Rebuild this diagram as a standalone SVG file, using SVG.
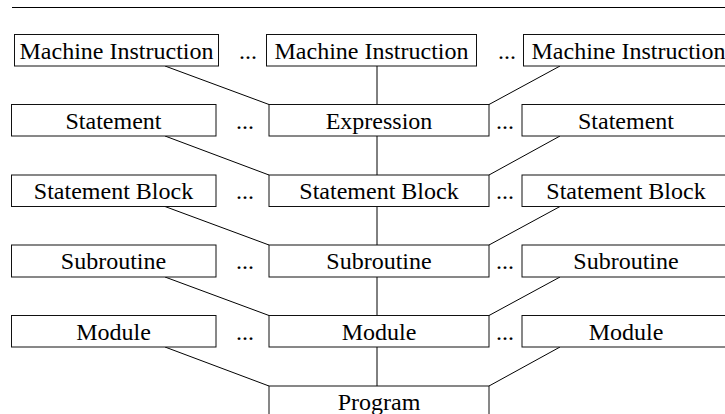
<svg xmlns="http://www.w3.org/2000/svg" width="725" height="414" viewBox="0 0 725 414">
<style>
  .box { fill: #fff; stroke: #111; stroke-width: 1; }
  .conn { stroke: #000; stroke-width: 1; fill: none; }
  text { font-family: 'Liberation Serif', 'Times New Roman', Times, 'DejaVu Serif', serif; font-size: 24px; fill: #000; text-anchor: middle; }
</style>
<rect width="725" height="414" fill="#fff"/>
<line x1="12" y1="7.5" x2="725" y2="7.5" stroke="#000" stroke-width="1"/>

<g id="connectors">
  <line class="conn" x1="165" y1="66" x2="269" y2="104.5"/>
  <line class="conn" x1="377" y1="66" x2="377" y2="104.5"/>
  <line class="conn" x1="560" y1="66" x2="489" y2="104.5"/>
  <line class="conn" x1="165" y1="136" x2="269" y2="175"/>
  <line class="conn" x1="377" y1="136" x2="377" y2="175"/>
  <line class="conn" x1="560" y1="136" x2="489" y2="175"/>
  <line class="conn" x1="165" y1="206.5" x2="269" y2="245"/>
  <line class="conn" x1="377" y1="206.5" x2="377" y2="245"/>
  <line class="conn" x1="560" y1="206.5" x2="489" y2="245"/>
  <line class="conn" x1="165" y1="277" x2="269" y2="315.5"/>
  <line class="conn" x1="377" y1="277" x2="377" y2="315.5"/>
  <line class="conn" x1="560" y1="277" x2="489" y2="315.5"/>
  <line class="conn" x1="165" y1="347" x2="269" y2="386"/>
  <line class="conn" x1="377" y1="347" x2="377" y2="386"/>
  <line class="conn" x1="560" y1="347" x2="489" y2="386"/>
</g>

<g font-family="Liberation Serif, Times New Roman, serif">
<g id="mi1"><rect class="box" x="14.5" y="34.5" width="204" height="31.5"/><text x="116.5" y="58.5">Machine Instruction</text></g>
<g id="dots1a"><text x="248" y="58.5">...</text></g>
<g id="mi2"><rect class="box" x="266.5" y="34.5" width="210" height="31.5"/><text x="371.5" y="58.5">Machine Instruction</text></g>
<g id="dots1b"><text x="507" y="58.5">...</text></g>
<g id="mi3"><rect class="box" x="523.5" y="34.5" width="210" height="31.5"/><text x="628.5" y="58.5">Machine Instruction</text></g>

<g id="st1"><rect class="box" x="11.5" y="104.5" width="204.5" height="31.5"/><text x="113.5" y="128.5">Statement</text></g>
<g id="dots2a"><text x="245" y="128.5">...</text></g>
<g id="expr"><rect class="box" x="269" y="104.5" width="220" height="31.5"/><text x="379" y="128.5">Expression</text></g>
<g id="dots2b"><text x="505" y="128.5">...</text></g>
<g id="st3"><rect class="box" x="522" y="104.5" width="208" height="31.5"/><text x="626" y="128.5">Statement</text></g>

<g id="sb1"><rect class="box" x="11.5" y="175" width="204.5" height="31.5"/><text x="113.5" y="199">Statement Block</text></g>
<g id="dots3a"><text x="245" y="199">...</text></g>
<g id="sb2"><rect class="box" x="269" y="175" width="220" height="31.5"/><text x="379" y="199">Statement Block</text></g>
<g id="dots3b"><text x="505" y="199">...</text></g>
<g id="sb3"><rect class="box" x="522" y="175" width="208" height="31.5"/><text x="626" y="199">Statement Block</text></g>

<g id="sr1"><rect class="box" x="11.5" y="245" width="204.5" height="32"/><text x="113.5" y="269">Subroutine</text></g>
<g id="dots4a"><text x="245" y="269">...</text></g>
<g id="sr2"><rect class="box" x="269" y="245" width="220" height="32"/><text x="379" y="269">Subroutine</text></g>
<g id="dots4b"><text x="505" y="269">...</text></g>
<g id="sr3"><rect class="box" x="522" y="245" width="208" height="32"/><text x="626" y="269">Subroutine</text></g>

<g id="mod1"><rect class="box" x="11.5" y="315.5" width="204.5" height="31.5"/><text x="113.5" y="339.5">Module</text></g>
<g id="dots5a"><text x="245" y="339.5">...</text></g>
<g id="mod2"><rect class="box" x="269" y="315.5" width="220" height="31.5"/><text x="379" y="339.5">Module</text></g>
<g id="dots5b"><text x="505" y="339.5">...</text></g>
<g id="mod3"><rect class="box" x="522" y="315.5" width="208" height="31.5"/><text x="626" y="339.5">Module</text></g>

<g id="program"><rect class="box" x="269" y="386" width="220" height="40"/><text x="379" y="410">Program</text></g>
</g>
</svg>
